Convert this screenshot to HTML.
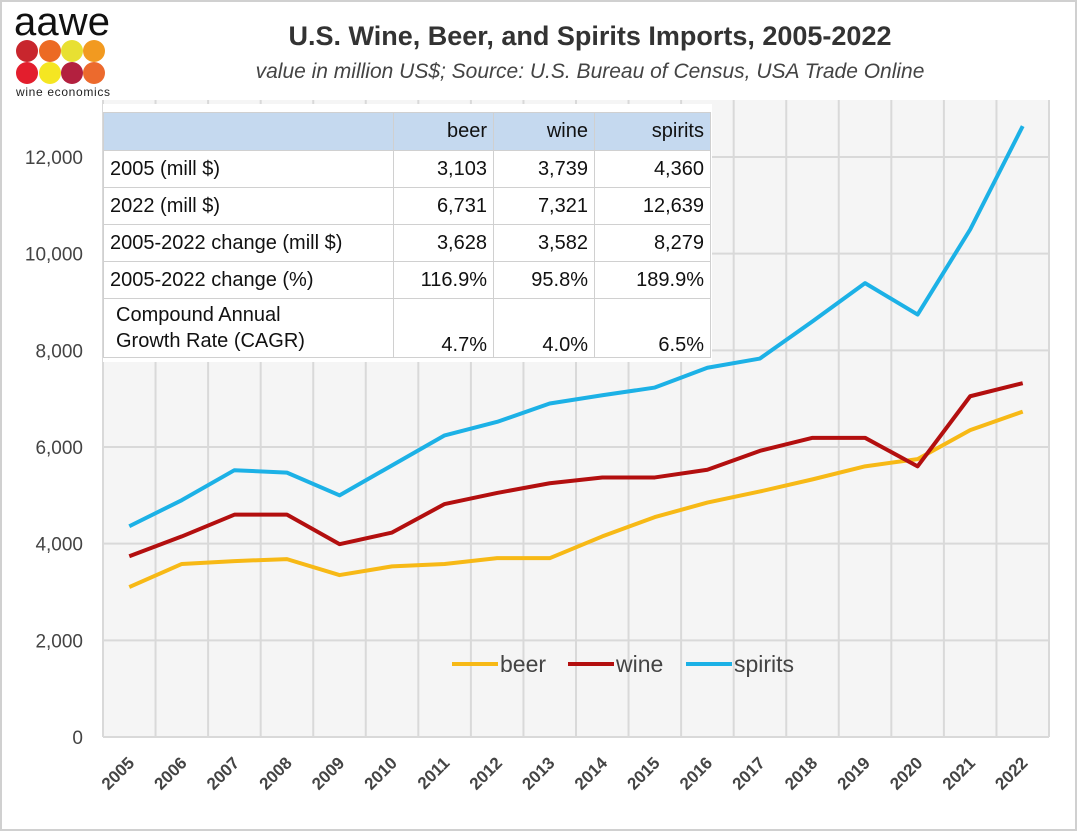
<!DOCTYPE html>
<html><head><meta charset="utf-8">
<style>
body{margin:0;background:#fff;}
#wrap{position:relative;width:1077px;height:831px;overflow:hidden;font-family:"Liberation Sans",sans-serif;}
svg text{font-family:"Liberation Sans",sans-serif;}
table{position:absolute;left:103px;top:112px;border-collapse:collapse;font-size:20px;color:#111;background:#fff;}
td{border:1px solid #d0d0d0;padding:0 6px;height:36px;}
td.n{text-align:right;}
tr.h td{background:#c5d9ef;height:37px;}
</style></head><body>
<div id="wrap">
<svg id="svg" width="1077" height="831" style="position:absolute;left:0;top:0">
<rect x="1" y="1" width="1075" height="829" fill="#fff" stroke="#d0d0d0" stroke-width="2"/>
<rect x="103" y="100" width="946" height="637" fill="#f5f5f5"/>
<g id="grid"></g>
<rect x="103" y="104" width="609" height="258" fill="#fff"/>
<g id="lines"></g>
<g id="axes"></g>
<text x="590" y="45" text-anchor="middle" font-size="27" font-weight="bold" fill="#333">U.S. Wine, Beer, and Spirits Imports, 2005-2022</text>
<text x="590" y="78" text-anchor="middle" font-size="21" font-style="italic" fill="#444">value in million US$; Source: U.S. Bureau of Census, USA Trade Online</text>
<g>
<text x="14" y="35" font-size="40" fill="#111" textLength="96">aawe</text>
<circle cx="27" cy="51" r="11" fill="#c8262d"/><circle cx="50" cy="51" r="11" fill="#ec6a23"/><circle cx="72" cy="51" r="11" fill="#e8e032"/><circle cx="94" cy="51" r="11" fill="#f29a20"/>
<circle cx="27" cy="73" r="11" fill="#e31e2d"/><circle cx="50" cy="73" r="11" fill="#f5e622"/><circle cx="72" cy="73" r="11" fill="#b3203f"/><circle cx="94" cy="73" r="11" fill="#ec6a2d"/>
<text x="16" y="96" font-size="12" font-family="Liberation Serif" fill="#222" textLength="94">wine economics</text>
</g>
<g id="legend"></g>
</svg>
<table>
<tr class="h"><td style="width:277px"></td><td class="n" style="width:87px">beer</td><td class="n" style="width:88px">wine</td><td class="n" style="width:103px">spirits</td></tr>
<tr><td>2005 (mill $)</td><td class="n">3,103</td><td class="n">3,739</td><td class="n">4,360</td></tr>
<tr><td>2022 (mill $)</td><td class="n">6,731</td><td class="n">7,321</td><td class="n">12,639</td></tr>
<tr><td>2005-2022 change (mill $)</td><td class="n">3,628</td><td class="n">3,582</td><td class="n">8,279</td></tr>
<tr><td>2005-2022 change (%)</td><td class="n">116.9%</td><td class="n">95.8%</td><td class="n">189.9%</td></tr>
<tr><td style="height:58px;line-height:26px;padding-left:12px">Compound Annual<br>Growth Rate (CAGR)</td><td class="n" style="vertical-align:bottom">4.7%</td><td class="n" style="vertical-align:bottom">4.0%</td><td class="n" style="vertical-align:bottom">6.5%</td></tr>
</table>
</div>
<script>
const years=[2005,2006,2007,2008,2009,2010,2011,2012,2013,2014,2015,2016,2017,2018,2019,2020,2021,2022];
const beer=[3103,3580,3640,3680,3350,3530,3580,3700,3700,4150,4550,4850,5080,5330,5600,5750,6350,6731];
const wine=[3739,4150,4600,4600,3990,4230,4820,5050,5250,5370,5370,5530,5920,6190,6190,5600,7050,7321];
const spirits=[4360,4900,5520,5470,5000,5620,6240,6520,6900,7070,7230,7640,7830,8600,9390,8740,10500,12639];
const yTicks=[0,2000,4000,6000,8000,10000,12000];
const NS="http://www.w3.org/2000/svg";
const L=103,R=1049,Y0=737,Y12=157;
const bw=(R-L)/years.length;
function xs(i){return L+bw*(i+0.5);}
function ys(v){return Y0-(v/12000)*(Y0-Y12);}
function mk(t,a,p){const e=document.createElementNS(NS,t);for(const k in a)e.setAttribute(k,a[k]);p.appendChild(e);return e;}
const grid=document.getElementById('grid'),axes=document.getElementById('axes'),lines=document.getElementById('lines');
yTicks.forEach(v=>{
  const g=mk('line',{x1:L,x2:R,y1:ys(v),y2:ys(v),stroke:'#d9d9d9','stroke-width':2},grid);
  
  
  const t=mk('text',{x:83,y:ys(v)+7,'text-anchor':'end','font-size':19,fill:'#444'},axes);
  t.textContent=v.toLocaleString('en-US');
  
  
});
for(let i=0;i<=years.length;i++){
  const x=L+bw*i;
  const g=mk('line',{x1:x,x2:x,y1:100,y2:Y0,stroke:'#d9d9d9','stroke-width':2},grid);
  
  
}
years.forEach((y,i)=>{
  const t=mk('text',{x:xs(i)+6,y:764,'text-anchor':'end','font-size':17,'font-weight':'bold',fill:'#444',transform:`rotate(-45 ${xs(i)+6} 764)`},axes);
  t.textContent=y;
  
  
});
const series=[['beer',beer,'#f7b916'],['wine',wine,'#b30f0f'],['spirits',spirits,'#1cb1e6']];
series.forEach(([n,d,c])=>{
  const p=mk('polyline',{points:d.map((v,i)=>xs(i)+','+ys(v)).join(' '),fill:'none',stroke:c,'stroke-width':4,'stroke-linejoin':'round'},lines);
  
  
});
const leg=document.getElementById('legend');
const lx=[452,568,686];
series.forEach(([n,d,c],k)=>{
  const l=mk('line',{x1:lx[k],x2:lx[k]+46,y1:664,y2:664,stroke:c,'stroke-width':4},leg);
  
  
  const t=mk('text',{x:lx[k]+48,y:672,'font-size':23,fill:'#444'},leg);
  t.textContent=n;
  
  
});
</script>
</body></html>
